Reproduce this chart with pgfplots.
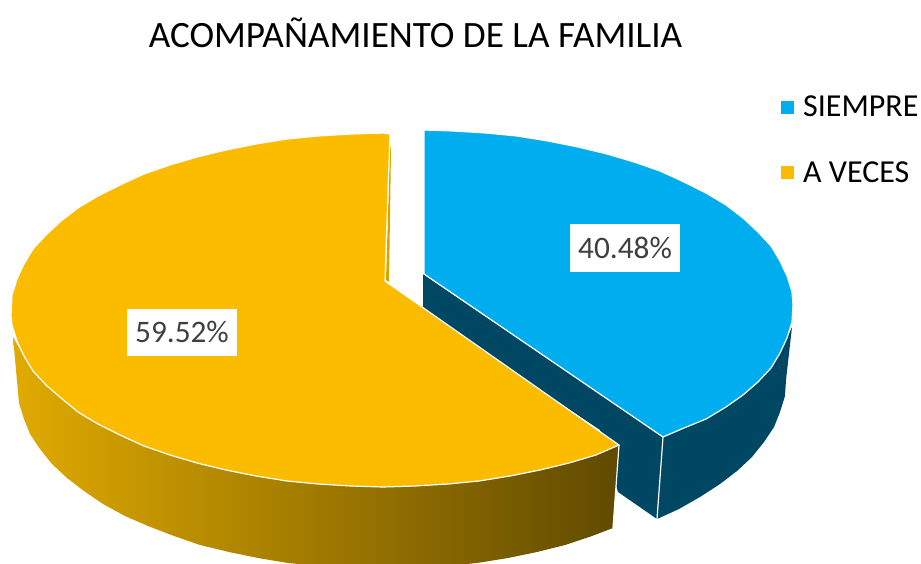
\documentclass[border=0pt]{standalone}
\usepackage{fontspec}
\setmainfont{Carlito}
\usepackage{pgfplots}
\pgfplotsset{compat=1.18}
\definecolor{cblue}{HTML}{00AEEF}
\definecolor{cgold}{HTML}{FBBC00}
\definecolor{cdark}{HTML}{004763}
\definecolor{ccut}{HTML}{D9A300}
\definecolor{ctxt}{HTML}{404040}
\begin{document}
\begin{tikzpicture}
\useasboundingbox (0,0) rectangle (921pt,564pt);
\begin{axis}[
  at={(0,0)},anchor=south west,
  width=921pt,height=564pt,scale only axis,
  xmin=0,xmax=921,ymin=0,ymax=564,y dir=reverse,
  hide axis,clip=true,
  legend style={at={(axis cs:780,96)},anchor=north west,draw=none,fill=none,
    font=\fontsize{32}{32}\selectfont,text=black,row sep=43pt,inner sep=0pt,outer sep=0pt,
    nodes={inner sep=0pt,outer sep=0pt}},
  legend cell align=left,
  legend image code/.code={\path (0pt,0pt) -- (22pt,0pt);\fill[#1,draw=none] (0pt,-6.5pt) rectangle (13pt,6.5pt);},
]
% cut + outer side of the exploded slice
\addplot[forget plot,fill=cdark,draw=none] coordinates {
 (423,274)(663,437)(726,407)(758,382)(780,353)(792,327)(786,380)(785,396)(780,412)(774,427)(764,442)(752,457)(737,471)(720,484)(700,497)(679,509)(657,519)(618,492)(600,430)(423,312)(423,274)};
\addplot[forget plot,draw=white,line width=1.2pt] coordinates {(663,437)(657,519)};
% top of the exploded slice
\addplot[fill=cblue,draw=white,line width=1.2pt] coordinates {
 (424,130)(453,131)(486,133)(517,136)(548,141)(578,147)(607,154)(634,162)(660,171)(684,182)(706,193)(726,205)(743,218)(758,232)(771,246)(780,261)(787,276)(792,292)(793,305)(792,322)(787,338)(780,353)(771,368)(758,382)(743,395)(726,407)(706,419)(684,428)(663,437)(424,274)(424,130)};
\addlegendentry{SIEMPRE}
% side of the large slice
\addplot[forget plot,draw=none,
  left color={rgb,255:red,224;green,170;blue,0},right color={rgb,255:red,96;green,74;blue,0}] coordinates {
 (13,337)(24,356)(33,371)(46,385)(61,398)(78,412)(98,424)(120,435)(144,446)(170,455)(197,463)(226,470)(256,476)(287,481)(318,484)(351,486)(383,487)(415,486)(448,484)(479,481)(510,476)(540,470)(569,463)(596,455)(619,445)
 (613,528)(592,536)(565,545)(537,552)(508,558)(477,563)(446,566)(415,568)(383,569)(351,568)(320,566)(288,563)(258,558)(229,552)(200,545)(174,536)(148,526)(125,516)(103,504)(84,491)(67,478)(52,464)(40,449)(30,434)(24,419)(19,403)(13,337)};
\addplot[forget plot,draw=white,line width=1.2pt] coordinates {(619,445)(613,528)};
% thin cut of the large slice
\addplot[forget plot,fill=ccut,draw=none] coordinates {(390,145)(391,150)(389,282)(386,280)(390,145)};
% top of the large slice
\addplot[fill=cgold,draw=white,line width=1.2pt] coordinates {
 (390,134)(383,133)(351,134)(318,136)(287,139)(256,144)(226,150)(197,157)(170,165)(144,174)(120,185)(98,196)(78,208)(61,221)(46,235)(33,249)(24,264)(17,279)(12,295)(11,316)(12,325)(17,341)(24,356)(33,371)(46,385)(61,398)(78,412)(98,424)(120,435)(144,446)(170,455)(197,463)(226,470)(256,476)(287,481)(318,484)(351,486)(383,487)(415,486)(448,484)(479,481)(510,476)(540,470)(569,463)(596,455)(619,445)(385,281)(390,134)};
\addlegendentry{A VECES}
\node[fill=white,text=ctxt,font=\fontsize{31.3}{31.3}\selectfont,minimum width=110pt,minimum height=47pt,inner sep=0pt] at (axis cs:625,248) {40.48\%};
\node[fill=white,text=ctxt,font=\fontsize{31.3}{31.3}\selectfont,minimum width=110pt,minimum height=47pt,inner sep=0pt] at (axis cs:182,332) {59.52\%};
\node[text=black,font=\fontsize{37.2}{37.2}\selectfont,inner sep=0pt] at (axis cs:415.5,33) {ACOMPAÑAMIENTO DE LA FAMILIA};
\end{axis}
\end{tikzpicture}
\end{document}
